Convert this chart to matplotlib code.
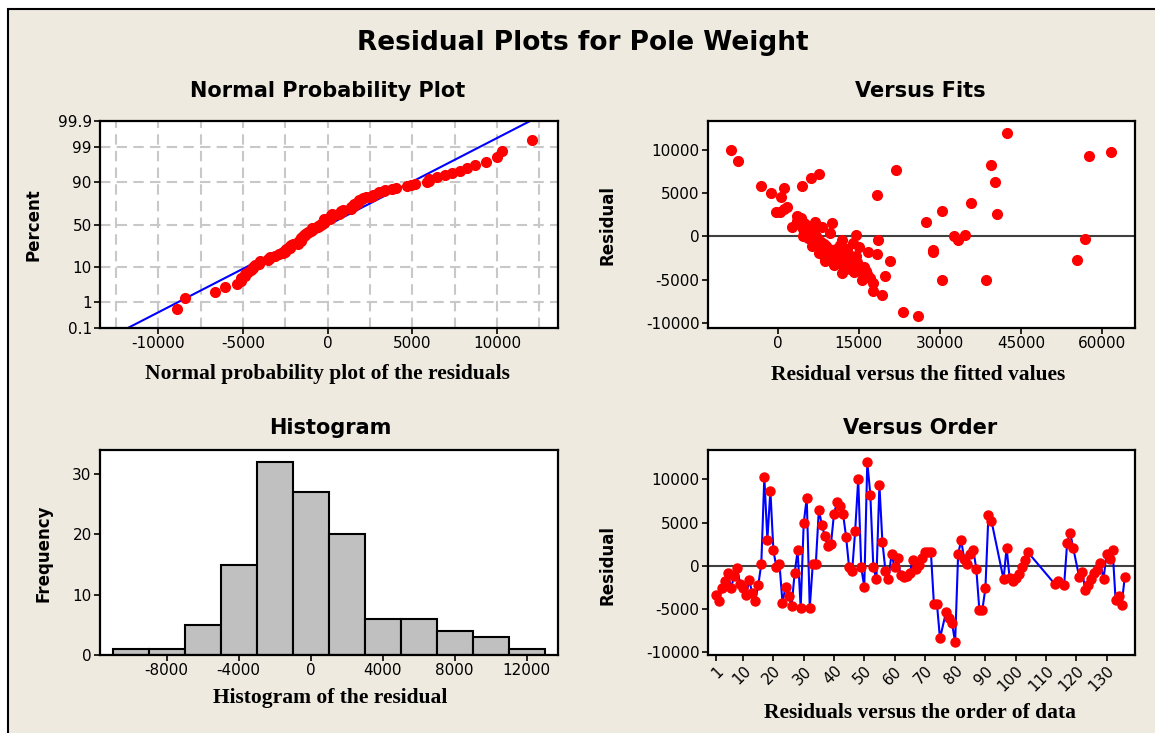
import numpy as np
import matplotlib.pyplot as plt
from matplotlib.patches import Rectangle
from statistics import NormalDist

order_idx = (list(range(1, 76)) + list(range(77, 93)) + list(range(96, 105))
             + [113, 114, 116, 117, 118, 119] + list(range(121, 137)))
order_resid = [
    -3400, -4040, -2550, -1760, -900, -2630, -1180, -270, -2080, -2550, -3400, -1690, -3140, -4040, -2240,
    200, 10270, 3020, 8700, 1760, -200, 200, -4310, -2470, -3530, -4700, -900, 1760, -4900, 4900,
    7840, -4900, 200, 200, 6470, 4700, 3400, 2240, 2470, 6000, 7330, 6940, 6000, 3330, -200,
    -590, 4040, 10000, -200, -2470, 12040, 8240, -200, -1570, 9330, 2700, -590, -1570, 1370, -200,
    900, -1100, -1370, -1200, -900, 670, -390, 120, 900, 1570, 1570, 1570, -4430, -4430, -8430,
    -5370, -6080, -6670, -8900, 1370, 2940, 780, 200, 1370, 1840, -390, -5100, -5100, -2630, 5880, 5180,
    -1570, 2080, -1450, -1760, -1450, -980, -200, 700, 1570,
    -2160, -1760, -2240, 2670, 3800, 2040,
    -1370, -780, -2860, -2240, -1570, -900, -510, 270, -1570, 1370, 780, 1840, -4000, -3530, -4510, -1370,
]

fit_values = [
    -8730, -7280, -3180, -1320, 530, 1190, -330, 330, 1190, 1650, 4570, 6090, 7610,
    2650, 3510, 4300, 4830, 5290, 4630, 6820, 8270, 10120, 9730, 8930, 8600, 10450,
    11910, 11910, 14550, 13890, 14550, 14090, 15020, 15550, 16540, 16740, 17540, 17540,
    18530, 18400, 18330, 19380, 19850, 20840, 21830, 23160, 26000, 27460, 28650, 28650,
    30440, 30440, 32620, 33420, 34610, 35730, 38580, 39370, 40160, 40490, 42350,
    55380, 56900, 57560, 61660,
    3500, 4000, 4200, 4600, 5000, 5200, 5500, 5800, 6000, 6200, 6500, 6800, 7000, 7200,
    7500, 7800, 8000, 8300, 8500, 8800, 9000, 9300, 9500, 9800, 10000, 10300, 10600,
    11000, 11300, 11600, 12000, 12300, 12600, 13000, 13300, 13600, 14000, 14300, 14700,
    15200, 15800, 16300, 17000, 12800, 11500, 10800, 9200, 7600, 6400, 5600, 4800,
    13500, 12100, 10900, 8700, 7300, 16000,
]
fit_resid = [
    10000, 8730, 5850, 5000, 4540, 5650, 2810, 2810, 3190, 3460, 5850, 6730, 7190,
    1080, 2310, 2120, 1540, 770, 0, 1730, 1080, 1540, 380, -1150, -2310, -3270,
    -380, -4230, 190, -770, -2310, -4150, -1230, -5000, -4310, -1850, -5380, -6350,
    -380, 4810, -2000, -6810, -4620, -2880, 7690, -8770, -9230, 1730, -1540, -1850,
    3000, -5080, 0, -460, 190, 3920, -5080, 8270, 6310, 2620, 12000,
    -2690, -270, 9350, 9810,
    1800, 1500, 2000, 900, 600, 1300, 200, 1000, 300, -200, 800, -500, 100, -800,
    -300, -1000, -600, -1300, -900, -1700, -1200, -2000, -1500, -1800, -2300, -2600, -2000,
    -2800, -2400, -3000, -3300, -2600, -3600, -2900, -3800, -3200, -3500, -3900, -3000,
    -3700, -4300, -4000, -4800, -1500, -1000, -1400, -2500, -1900, -1100, -200, 400,
    -2200, -1800, -3100, -2800, -700, -3500,
]

# histogram of the residuals (bin centres and counts)
hist_centers = [-10000, -8000, -6000, -4000, -2000, 0, 2000, 4000, 6000, 8000, 10000, 12000]
hist_counts = [1, 1, 5, 15, 32, 27, 20, 6, 6, 4, 3, 1]

pct_ticks = [0.1, 1, 10, 50, 90, 99, 99.9]
pct_labels = ['0.1', '1', '10', '50', '90', '99', '99.9']

W, H = 1155, 733
BG = '#EEEAE0'
plt.rcParams['font.family'] = 'DejaVu Sans'
plt.rcParams['axes.unicode_minus'] = False

fig = plt.figure(figsize=(W / 100, H / 100), dpi=100, facecolor='white')
fig.patches.append(Rectangle((8 / W, -0.1), 1.2, 1.1 - 9 / H, transform=fig.transFigure,
                             facecolor=BG, edgecolor='black', lw=1.5, zorder=-10))


def ax_at(l, r, t, b):
    ax = fig.add_axes([l / W, 1 - b / H, (r - l) / W, (b - t) / H])
    for s in ax.spines.values():
        s.set_linewidth(1.6)
        s.set_color('black')
    ax.tick_params(direction='out', length=4, width=1.2, labelsize=11, pad=2)
    return ax


def ftext(x, y, s, **kw):
    fig.text(x / W, 1 - y / H, s, ha='center', va='center', **kw)


title_kw = dict(fontsize=15, fontweight='bold')
xlab_kw = dict(fontsize=15.5, fontweight='bold', family='Liberation Serif')
ylab_kw = dict(fontsize=12, fontweight='bold', rotation=90)

ftext(583, 43, 'Residual Plots for Pole Weight', fontsize=19, fontweight='bold')

# Normal probability plot
nd = NormalDist()
ax1 = ax_at(100, 558, 121, 328)
srt = np.sort(order_resid)
n = len(srt)
zs = [nd.inv_cdf((i - 0.3) / (n + 0.4)) for i in range(1, n + 1)]
mu, sd = np.mean(srt), np.std(srt, ddof=1)
zl = np.array([-3.5, 3.5])
ax1.set_xlim(-13450, 13600)
ax1.set_ylim(nd.inv_cdf(0.001), nd.inv_cdf(0.999))
ax1.set_xticks([-10000, -5000, 0, 5000, 10000])
ax1.set_xticks(np.arange(-12500, 13000, 2500), minor=True)
ax1.tick_params(which='minor', length=0)
ax1.set_yticks([nd.inv_cdf(p / 100) for p in pct_ticks])
ax1.set_yticklabels(pct_labels)
ax1.grid(True, which='both', axis='x', color='#C8C8C8', ls=(0, (5, 3)), lw=1.5)
ax1.grid(True, which='major', axis='y', color='#C8C8C8', ls=(0, (5, 3)), lw=1.5)
ax1.set_axisbelow(True)
ax1.plot(mu + sd * zl, zl, color='blue', lw=1.5, zorder=2)
ax1.plot(srt, zs, 'o', color='red', ms=7, zorder=3)
ftext(328, 91, 'Normal Probability Plot', **title_kw)
ftext(327, 374, 'Normal probability plot of the residuals', **xlab_kw)
ftext(33, 225, 'Percent', **ylab_kw)

# Versus fits
ax2 = ax_at(708, 1135, 121, 328)
ax2.set_xlim(-12900, 66100)
ax2.set_ylim(-10580, 13350)
ax2.set_xticks([0, 15000, 30000, 45000, 60000])
ax2.set_yticks([-10000, -5000, 0, 5000, 10000])
ax2.axhline(0, color='#404040', lw=1.5, zorder=1)
ax2.plot(fit_values, fit_resid, 'o', color='red', ms=7, zorder=3)
ftext(920, 91, 'Versus Fits', **title_kw)
ftext(918, 375, 'Residual versus the fitted values', **xlab_kw)
ftext(608, 225, 'Residual', **ylab_kw)

# Histogram
ax3 = ax_at(100, 558, 450, 655)
ax3.bar(hist_centers, hist_counts, width=2000, color='#C0C0C0', edgecolor='black', lw=1.5)
ax3.set_xlim(-11700, 13750)
ax3.set_ylim(0, 34)
ax3.set_xticks([-8000, -4000, 0, 4000, 8000, 12000])
ax3.set_yticks([0, 10, 20, 30])
ftext(330, 428, 'Histogram', **title_kw)
ftext(330, 698, 'Histogram of the residual', **xlab_kw)
ftext(43, 553, 'Frequency', **ylab_kw)

# Versus order
ax4 = ax_at(708, 1135, 450, 655)
ax4.set_xlim(-1.6, 139.4)
ax4.set_ylim(-10350, 13400)
ax4.axhline(0, color='#404040', lw=1.5, zorder=1)
ax4.plot(order_idx, order_resid, '-', color='blue', lw=1.5, zorder=2)
ax4.plot(order_idx, order_resid, 'o', color='red', ms=6.5, zorder=3)
ax4.set_xticks([1] + list(range(10, 131, 10)))
ax4.set_xticklabels([str(v) for v in [1] + list(range(10, 131, 10))],
                    rotation=45, ha='right', va='top', rotation_mode='anchor')
ax4.set_yticks([-10000, -5000, 0, 5000, 10000])
ftext(920, 428, 'Versus Order', **title_kw)
ftext(920, 713, 'Residuals versus the order of data', **xlab_kw)
ftext(608, 565, 'Residual', **ylab_kw)

fig.savefig('out.png', dpi=100, facecolor=fig.get_facecolor())
